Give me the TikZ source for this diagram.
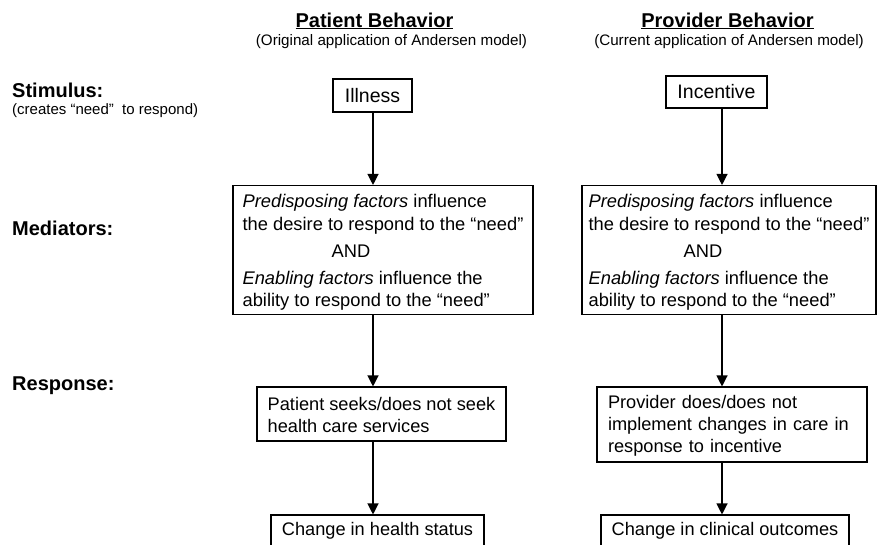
\documentclass[tikz,border=0pt]{standalone}
\usepackage{fontspec}
\setmainfont{Liberation Sans}
\usetikzlibrary{arrows.meta}

\begin{document}
\begin{tikzpicture}[x=1pt,y=-1pt,
  box/.style={draw=black, line width=1.1pt, inner sep=0pt, align=left,
              font=\fontsize{18.2}{22}\selectfont},
  medbox/.style={box, font=\fontsize{18.3}{22.6}\selectfont},
  headbox/.style={box, font=\fontsize{19.5}{23}\selectfont},
  arr/.style={-{Triangle[width=11pt,length=11pt]}, line width=1.2pt},
  rowlabel/.style={anchor=base west, inner sep=0pt, font=\bfseries\fontsize{20}{24}\selectfont},
  rownote/.style={anchor=base west, inner sep=0pt, font=\fontsize{15}{18}\selectfont},
  coltitle/.style={anchor=base, inner sep=0pt, font=\bfseries\fontsize{20}{24}\selectfont},
  colnote/.style={anchor=base, inner sep=0pt, font=\fontsize{15.2}{18}\selectfont}]

  % page area
  \fill[white] (0,0) rectangle (877,544);
  \useasboundingbox (0,0) rectangle (877,544);

  % column headings
  \node[coltitle] (t1) at (374.5,27) {\underline{Patient Behavior}};
  \node[colnote]  (s1) at (391.5,45) {(Original application of Andersen model)};
  \node[coltitle] (t2) at (727.5,27) {\underline{Provider Behavior}};
  \node[colnote]  (s2) at (729,45) {(Current application of Andersen model)};

  % row labels
  \node[rowlabel] (stim)  at (12,97)  {Stimulus:};
  \node[rownote]  (stimn) at (12,114) {(creates “need”\ \ to respond)};
  \node[rowlabel] (medi)  at (12,235) {Mediators:};
  \node[rowlabel] (resp)  at (12,390) {Response:};

  % arrow axes of the two columns
  \coordinate (axL) at (373,0);
  \coordinate (axR) at (722,0);

  % patient column
  \node[headbox, minimum width=79pt, minimum height=33pt] (ill) at (372.5,95.5) {Illness};
  \node[medbox, minimum width=300pt, minimum height=129pt] (medL) at (383,250)
    {\rule{0pt}{18pt}\textit{Predisposing factors} influence\\
     the desire to respond to the “need”\\[4.5pt]
     \hspace*{89pt}AND\\[4.5pt]
     \textit{Enabling factors} influence the\\
     ability to respond to the “need”};
  \node[box, minimum width=249pt, minimum height=54pt] (pat) at (381.5,414)
    {\rule{0pt}{15pt}Patient seeks/does not seek\\health care services};
  \node[box, align=center, minimum width=213pt, minimum height=32pt] (hst) at (377.5,531)
    {Change in health status};

  % provider column
  \node[headbox, minimum width=101pt, minimum height=32pt] (inc) at (716.5,92) {Incentive};
  \node[medbox, minimum width=294pt, minimum height=129pt] (medR) at (729,250)
    {\rule{0pt}{18pt}\textit{Predisposing factors} influence\\
     the desire to respond to the “need”\\[4.5pt]
     \hspace*{95pt}AND\\[4.5pt]
     \textit{Enabling factors} influence the\\
     ability to respond to the “need”};
  \node[box, text width=248pt, inner xsep=11pt, minimum height=75pt] (prov) at (732,424.5)
    {\rule{0pt}{15pt}Provider does/does not\\implement changes in care in\\response to incentive};
  \node[box, align=center, minimum width=248pt, minimum height=32pt] (clin) at (725,531)
    {Change in clinical outcomes};

  % connectors
  \draw[arr] (ill.south -| axL) -- (medL.north -| axL);
  \draw[arr] (medL.south -| axL) -- (pat.north -| axL);
  \draw[arr] (pat.south -| axL) -- (hst.north -| axL);
  \draw[arr] (inc.south -| axR) -- (medR.north -| axR);
  \draw[arr] (medR.south -| axR) -- (prov.north -| axR);
  \draw[arr] (prov.south -| axR) -- (clin.north -| axR);
\end{tikzpicture}
\end{document}
